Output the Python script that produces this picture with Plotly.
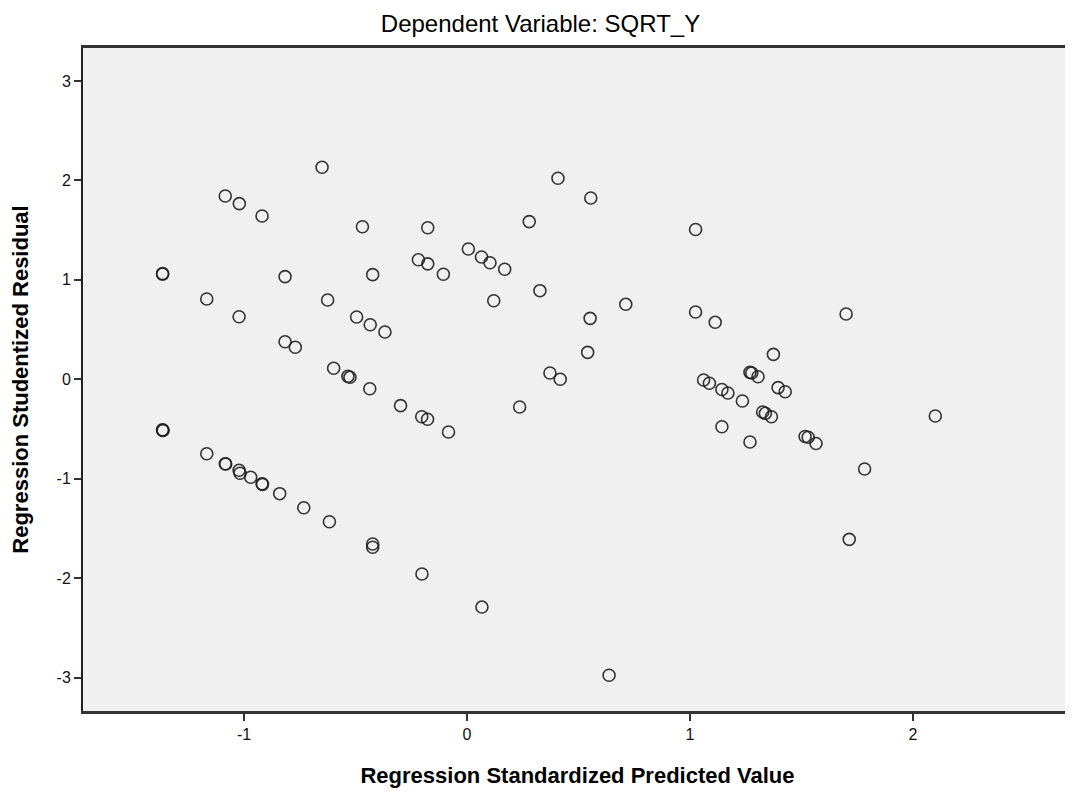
import plotly.graph_objects as go

# Regression Standardized Predicted Value
pred = [
    -1.365, -1.365, -1.167, -1.084, -1.021, -1.022, -0.919, -0.816, -0.816, -0.770,
    -0.650, -0.625, -0.598, -0.534, -0.525, -0.495, -0.469, -0.434, -0.436, -0.423,
    -0.368, -0.298, -0.218, -0.203, -0.176, -0.176, -0.177, -0.106, -0.083, 0.006,
    0.065, 0.103, 0.120, 0.169, 0.236, 0.279, 0.327, 0.372, 0.418, 0.408,
    0.541, 0.552, 0.555, 0.712, 1.025, 1.025, 1.113, 1.061, 1.087, 1.143,
    1.170, 1.143, 1.235, 1.269, 1.277, 1.305, 1.374, 1.326, 1.338, 1.365,
    1.269, 1.395, 1.427, 1.516, 1.530, 1.565, 1.700, 1.783, 2.100, 1.714,
    -1.365, -1.365, -1.363, -1.167, -1.084, -1.082, -1.022, -1.018, -0.970, -0.919,
    -0.917, -0.840, -0.732, -0.617, -0.423, -0.423, -0.202, 0.067, 0.637,
]
# Regression Studentized Residual
resid = [
    1.062, 1.058, 0.807, 1.843, 1.766, 0.629, 1.642, 1.032, 0.378, 0.322,
    2.132, 0.797, 0.111, 0.030, 0.020, 0.626, 1.534, 0.549, -0.095, 1.052,
    0.476, -0.265, 1.202, -0.376, 1.524, 1.161, -0.402, 1.056, -0.530, 1.310,
    1.230, 1.172, 0.790, 1.106, -0.279, 1.585, 0.891, 0.063, 0.000, 2.021,
    0.271, 0.613, 1.823, 0.754, 1.506, 0.677, 0.573, -0.007, -0.040, -0.103,
    -0.138, -0.477, -0.218, 0.070, 0.063, 0.026, 0.251, -0.329, -0.342, -0.376,
    -0.630, -0.084, -0.125, -0.575, -0.583, -0.646, 0.657, -0.902, -0.369, -1.609,
    -0.512, -0.508, -0.515, -0.748, -0.849, -0.852, -0.915, -0.945, -0.985, -1.050,
    -1.056, -1.150, -1.291, -1.432, -1.656, -1.689, -1.958, -2.290, -2.976,
]

x_ticks = [-1, 0, 1, 2]
y_ticks = [-3, -2, -1, 0, 1, 2, 3]

fig = go.Figure()
fig.add_trace(go.Scatter(
    x=pred, y=resid, mode="markers",
    marker=dict(symbol="circle-open", size=12, color="rgba(30,30,30,0.9)",
                line=dict(width=1.6, color="rgba(30,30,30,0.9)")),
    hoverinfo="x+y", showlegend=False,
))

fig.update_layout(
    width=1065, height=784,
    paper_bgcolor="white", plot_bgcolor="#F0F0F0",
    margin=dict(l=75, r=1, t=40, b=81, autoexpand=False),
    title=dict(text="Dependent Variable: SQRT_Y", x=0.5, xanchor="center",
               y=0.9796, yanchor="middle", automargin=False,
               font=dict(family="Liberation Sans, Arial", size=24, color="black")),
    font=dict(family="Liberation Sans, Arial", color="#111"),
    xaxis=dict(range=[-1.722, 2.713], tickvals=x_ticks, ticktext=[str(v) for v in x_ticks],
               showgrid=False, zeroline=False, showline=True, linecolor="#333",
               linewidth=2.5, mirror=True, ticks="outside", ticklen=7, tickwidth=2,
               tickcolor="#333", tickfont=dict(size=16, color="#111"), automargin=False,
               title=dict(text="<b>Regression Standardized Predicted Value</b>",
                          font=dict(size=22, color="black"), standoff=26)),
    yaxis=dict(range=[-3.335, 3.331], tickvals=y_ticks, ticktext=[str(v) for v in y_ticks],
               showgrid=False, zeroline=False, showline=True, linecolor="#222",
               linewidth=2, ticks="outside", ticklen=7, tickwidth=2,
               tickcolor="#333", tickfont=dict(size=16, color="#111"), automargin=False,
               title=dict(text="<b>Regression Studentized Residual</b>",
                          font=dict(size=22, color="black"), standoff=22)),
)
fig.add_shape(type="line", xref="paper", yref="paper", x0=1, x1=1, y0=0, y1=1,
              line=dict(color="#9a9a9a", width=1.5))

fig.write_html("out.html")
